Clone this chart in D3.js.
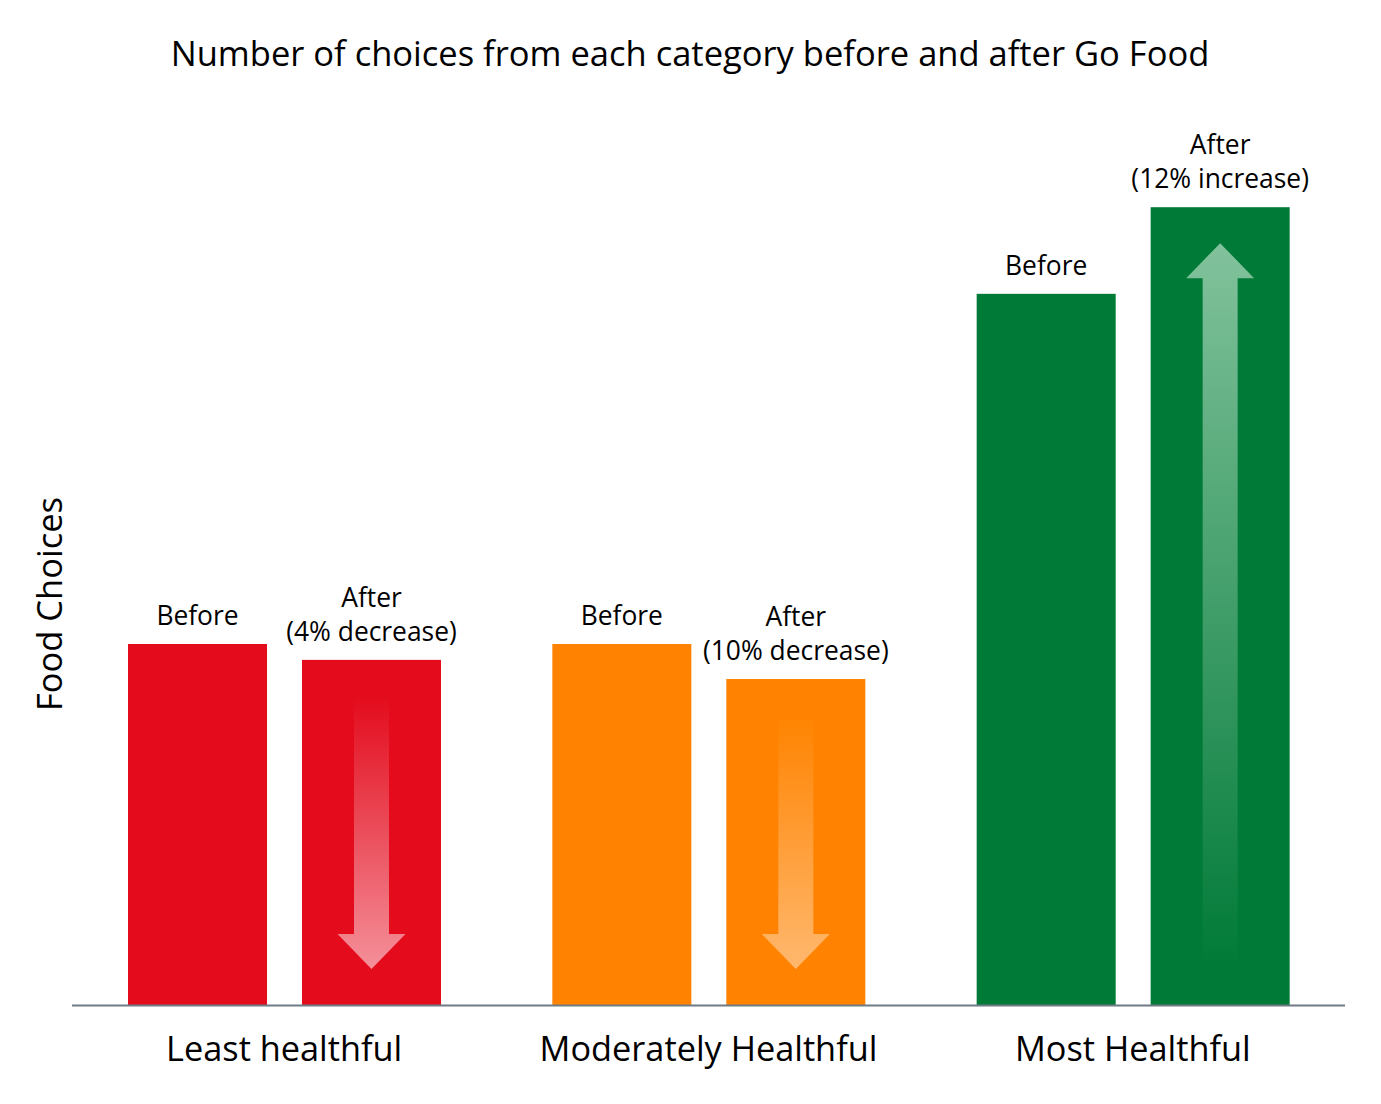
<!DOCTYPE html>
<html><head><meta charset="utf-8">
<script src="https://cdn.jsdelivr.net/npm/d3@7"></script>
<style>body{margin:0;background:#fff}svg{display:block}text{font-family:"Open Sans","Noto Sans",sans-serif;fill:#000}</style>
</head><body>
<svg id="c" width="1381" height="1104"></svg>
<script>
const categories = ["Least healthful", "Moderately Healthful", "Most Healthful"];
const phases = ["Before", "After"];
const beforeValues = [100, 100, 197];
const afterValues = [95.6, 90.3, 221];
const changeLabels = ["(4% decrease)", "(10% decrease)", "(12% increase)"];
const directions = ["down", "down", "up"];
const colors = ["#e30b1c", "#ff8300", "#007a37"];
const arrowColors = ["#f4909a", "#ffb86e", "#82c29c"];

const svg = d3.select("#c");
const x0 = d3.scaleBand().domain(categories).range([72, 1345]).padding(0);
const x1 = d3.scaleBand().domain(phases).range([56, 369]).paddingInner(0.201).paddingOuter(0);
const y = d3.scaleLinear().domain([0, 250]).range([1005, 102.5]);

svg.append("text").attr("x", 690).attr("y", 66).attr("text-anchor", "middle")
  .style("font-size", "34.5px").style("font-weight", 500).text("Number of choices from each category before and after Go Food");

svg.append("text").attr("transform", "translate(62,604) rotate(-90)").attr("text-anchor", "middle")
  .style("font-size", "34.5px").text("Food Choices");

const defs = svg.append("defs");
categories.forEach((c, i) => {
  const g = defs.append("linearGradient").attr("id", "g" + i).attr("x1", 0).attr("x2", 0).attr("y1", 0).attr("y2", 1);
  if (directions[i] === "down") {
    g.append("stop").attr("offset", "0%").attr("stop-color", arrowColors[i]).attr("stop-opacity", 0);
    g.append("stop").attr("offset", "100%").attr("stop-color", arrowColors[i]).attr("stop-opacity", 1);
  } else {
    g.append("stop").attr("offset", "0%").attr("stop-color", arrowColors[i]).attr("stop-opacity", 1);
    g.append("stop").attr("offset", "100%").attr("stop-color", arrowColors[i]).attr("stop-opacity", 0);
  }
});

const data = categories.map((c, i) => ({c, i, vals: [beforeValues[i], afterValues[i]]}));
const groups = svg.selectAll("g.grp").data(data).enter().append("g")
  .attr("transform", d => `translate(${x0(d.c)},0)`);

groups.each(function(d) {
  const g = d3.select(this);
  phases.forEach((p, j) => {
    const v = d.vals[j];
    const bx = x1(p), bw = x1.bandwidth();
    g.append("rect").attr("x", bx).attr("y", y(v)).attr("width", bw).attr("height", y(0) - y(v)).attr("fill", colors[d.i]);
    const cx = bx + bw / 2;
    if (j === 0) {
      g.append("text").attr("x", cx).attr("y", y(v) - 19).attr("text-anchor", "middle").style("font-size", "26.4px").text("Before");
    } else {
      g.append("text").attr("x", cx).attr("y", y(v) - 53).attr("text-anchor", "middle").style("font-size", "26.4px").text("After");
      g.append("text").attr("x", cx).attr("y", y(v) - 19).attr("text-anchor", "middle").style("font-size", "26.4px").text(changeLabels[d.i]);
      const top = y(v) + 36, bot = y(0) - 36;
      const sw = 17.5, hw = 34, hh = 35;
      let path;
      if (directions[d.i] === "down") {
        path = `M${cx - sw},${top} L${cx + sw},${top} L${cx + sw},${bot - hh} L${cx + hw},${bot - hh} L${cx},${bot} L${cx - hw},${bot - hh} L${cx - sw},${bot - hh} Z`;
      } else {
        path = `M${cx},${top} L${cx + hw},${top + hh} L${cx + sw},${top + hh} L${cx + sw},${bot} L${cx - sw},${bot} L${cx - sw},${top + hh} L${cx - hw},${top + hh} Z`;
      }
      g.append("path").attr("d", path).attr("fill", `url(#g${d.i})`);
    }
  });
});

svg.append("line").attr("x1", 72).attr("x2", 1345).attr("y1", y(0) + 0.5).attr("y2", y(0) + 0.5)
  .attr("stroke", "#6f7c85").attr("stroke-width", 2);

svg.selectAll("text.cat").data(categories).enter().append("text")
  .attr("x", d => x0(d) + x0.bandwidth() / 2).attr("y", 1061).attr("text-anchor", "middle")
  .style("font-size", "34.3px").text(d => d);
</script>
</body></html>
